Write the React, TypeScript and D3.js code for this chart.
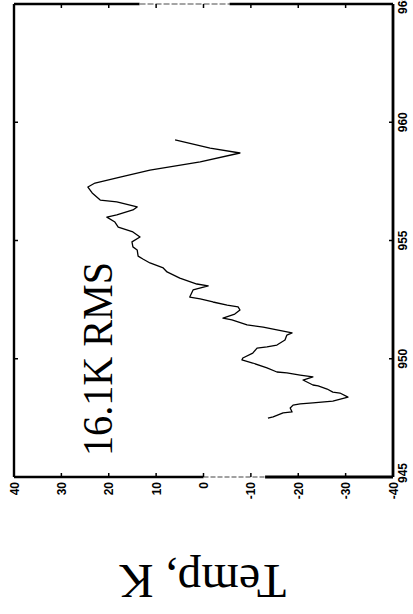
import React from 'react';
import * as d3 from 'd3';

// Wavelength-like axis (vertical, 945-965) and temperature (horizontal, 40 to -40)
const wavelength = [
  947.49, 947.54, 947.71, 947.75, 947.92, 948.04, 948.09, 948.13, 948.21, 948.38,
  948.55, 948.59, 948.72, 948.85, 948.89, 949.10, 949.23, 949.31, 949.40, 949.44,
  949.61, 949.82, 949.95, 950.03, 950.24, 950.45, 950.50, 950.58, 950.79, 951.00,
  951.09, 951.22, 951.34, 951.43, 951.64, 951.72, 951.89, 952.06, 952.19, 952.27,
  952.40, 952.53, 952.61, 952.91, 953.08, 953.16, 953.41, 953.67, 953.84, 954.05,
  954.22, 954.34, 954.60, 954.73, 954.94, 955.15, 955.36, 955.57, 955.78, 955.99,
  956.08, 956.29, 956.42, 956.63, 956.71, 957.01, 957.26, 957.43, 957.68, 957.98,
  958.32, 958.70, 958.91, 959.25,
];
const temperature = [
  -13.6, -14.7, -16.8, -18.7, -18.3, -18.9, -20.4, -23.1, -27.3, -30.5,
  -28.8, -27.3, -26.1, -24.2, -23.1, -21.0, -23.1, -20.4, -17.6, -15.5,
  -13.4, -10.4, -8.1, -8.3, -10.4, -11.3, -13.4, -15.5, -17.2, -17.6,
  -18.7, -15.5, -12.6, -9.2, -6.0, -4.1, -6.6, -7.7, -7.3, -5.0,
  -2.0, 0.7, 2.9, 2.2, -1.0, 1.4, 5.0, 7.7, 8.5, 11.3,
  12.8, 13.8, 14.0, 14.9, 15.1, 13.4, 14.9, 18.0, 18.7, 20.4,
  18.3, 14.9, 14.0, 18.3, 21.8, 23.5, 24.4, 22.9, 17.6, 11.3,
  0.7, -7.7, -1.4, 6.0,
];
const tempTicks = [40, 30, 20, 10, 0, -10, -20, -30, -40];
const waveTicks = [945, 950, 955, 960, 965];
const rmsLabel = '16.1K RMS';
const axisTitle = 'Temp, K';

export default function App() {
  const W = 413;
  const H = 614;
  const x = d3.scaleLinear().domain([40, -40]).range([14, 393]);
  const y = d3.scaleLinear().domain([945, 965]).range([477, 4]);

  const pts = wavelength.map((w, i) => ({ w, t: temperature[i] }));
  const path = d3
    .line<{ w: number; t: number }>()
    .x((d) => x(d.t))
    .y((d) => y(d.w))(pts) as string;

  const x0 = x(40);
  const x1 = x(-40);
  const y0 = y(965);
  const y1 = y(945);
  const tickLen = 4;
  const labelFont = "'Liberation Sans', Arial, sans-serif";
  const serif = "'Liberation Serif', 'Times New Roman', serif";

  return (
    <svg
      width={W}
      height={H}
      style={{ position: 'absolute', left: 0, top: 0, background: '#fff' }}
    >
      <rect x={0} y={0} width={W} height={H} fill="#fff" />
      {/* frame */}
      <line x1={x0} y1={y0} x2={x0} y2={y1} stroke="#000" strokeWidth={2.4} />
      <line x1={x1} y1={y0} x2={x1} y2={y1} stroke="#000" strokeWidth={2.8} />
      {/* top edge */}
      <line x1={x0} y1={y0} x2={x(13.5)} y2={y0} stroke="#000" strokeWidth={2.6} />
      <line x1={x(13.5)} y1={y0} x2={x(-5.5)} y2={y0} stroke="#888" strokeWidth={1.4} strokeDasharray="6 2" />
      <line x1={x(-5.5)} y1={y0} x2={x1} y2={y0} stroke="#000" strokeWidth={2.6} />
      {/* bottom edge */}
      <line x1={x0} y1={y1} x2={x(0)} y2={y1} stroke="#000" strokeWidth={2.6} />
      <line x1={x(0)} y1={y1} x2={x(-13)} y2={y1} stroke="#444" strokeWidth={1.2} strokeDasharray="5 2" />
      <line x1={x(-13)} y1={y1} x2={x1} y2={y1} stroke="#000" strokeWidth={2.8} />

      {/* temperature ticks (bottom & top) */}
      {tempTicks.map((t) => (
        <g key={'tt' + t}>
          <line x1={x(t)} y1={y1} x2={x(t)} y2={y1 - tickLen} stroke="#000" strokeWidth={1.5} />
          <line x1={x(t)} y1={y0} x2={x(t)} y2={y0 + tickLen} stroke="#000" strokeWidth={1.5} />
          <text
            transform={`translate(${x(t) + 4.5},${y1 + 5}) rotate(-90)`}
            textAnchor="end"
            fontFamily={labelFont}
            fontWeight="bold"
            fontSize={12}
            fill="#000"
          >
            {t}
          </text>
        </g>
      ))}

      {/* wavelength ticks (right & left) */}
      {waveTicks.map((w) => (
        <g key={'wt' + w}>
          <line x1={x1} y1={y(w)} x2={x1 - tickLen} y2={y(w)} stroke="#000" strokeWidth={1.5} />
          <line x1={x0} y1={y(w)} x2={x0 + tickLen} y2={y(w)} stroke="#000" strokeWidth={1.5} />
          <text
            transform={`translate(${x1 + 14},${y(w) - (w === 945 ? 4 : 0)}) rotate(-90)`}
            textAnchor="middle"
            fontFamily={labelFont}
            fontWeight="bold"
            fontSize={12}
            fill="#000"
          >
            {w}
          </text>
        </g>
      ))}

      {/* data trace */}
      <path d={path} fill="none" stroke="#000" strokeWidth={1.3} strokeLinejoin="round" />

      {/* annotation */}
      <text
        transform={`translate(112,456) rotate(-90)`}
        textAnchor="start"
        fontFamily={serif}
        fontSize={43}
        textLength={194}
        lengthAdjust="spacingAndGlyphs"
        fill="#000"
      >
        {rmsLabel}
      </text>

      {/* axis title, upside down */}
      <text
        transform={`translate(202.5,565) rotate(180)`}
        textAnchor="middle"
        fontFamily={serif}
        fontSize={48}
        fill="#000"
      >
        {axisTitle}
      </text>
    </svg>
  );
}
